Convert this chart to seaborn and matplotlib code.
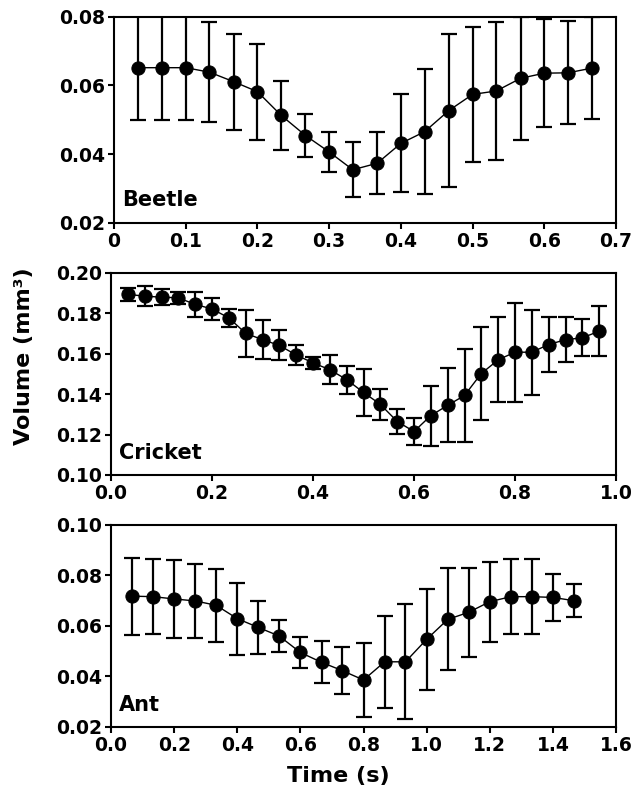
import matplotlib
matplotlib.use("Agg")
import matplotlib.pyplot as plt
import seaborn as sns
import pandas as pd

# ---------------- data ----------------
beetle_time = [0.033, 0.067, 0.100, 0.133, 0.167, 0.200, 0.233, 0.267, 0.300, 0.333,
               0.367, 0.400, 0.433, 0.467, 0.500, 0.533, 0.567, 0.600, 0.633, 0.667]
beetle_mean = [0.0652, 0.0652, 0.0652, 0.0639, 0.0611, 0.0582, 0.0513, 0.0454, 0.0406, 0.0354,
               0.0373, 0.0431, 0.0465, 0.0527, 0.0574, 0.0584, 0.0621, 0.0636, 0.0637, 0.0651]
beetle_err = [0.0152, 0.0152, 0.0152, 0.0146, 0.0140, 0.0140, 0.0100, 0.0062, 0.0058, 0.0080,
              0.0091, 0.0143, 0.0183, 0.0224, 0.0198, 0.0201, 0.0179, 0.0157, 0.0150, 0.0150]

cricket_time = [0.033, 0.067, 0.100, 0.133, 0.167, 0.200, 0.233, 0.267, 0.300, 0.333,
                0.367, 0.400, 0.433, 0.467, 0.500, 0.533, 0.567, 0.600, 0.633, 0.667,
                0.700, 0.733, 0.767, 0.800, 0.833, 0.867, 0.900, 0.933, 0.967]
cricket_mean = [0.1893, 0.1884, 0.1879, 0.1876, 0.1843, 0.1821, 0.1777, 0.1700, 0.1669, 0.1641,
                0.1593, 0.1554, 0.1521, 0.1471, 0.1408, 0.1350, 0.1264, 0.1215, 0.1293, 0.1345,
                0.1393, 0.1501, 0.1570, 0.1607, 0.1607, 0.1645, 0.1669, 0.1678, 0.1711]
cricket_err = [0.0033, 0.0048, 0.0040, 0.0030, 0.0064, 0.0056, 0.0045, 0.0116, 0.0098, 0.0075,
               0.0050, 0.0030, 0.0073, 0.0069, 0.0116, 0.0076, 0.0062, 0.0068, 0.0149, 0.0182,
               0.0231, 0.0229, 0.0209, 0.0245, 0.0211, 0.0136, 0.0110, 0.0091, 0.0124]

ant_time = [0.067, 0.133, 0.200, 0.267, 0.333, 0.400, 0.467, 0.533, 0.600, 0.667, 0.733,
            0.800, 0.867, 0.933, 1.000, 1.067, 1.133, 1.200, 1.267, 1.333, 1.400, 1.467]
ant_mean = [0.0717, 0.0715, 0.0706, 0.0698, 0.0681, 0.0628, 0.0593, 0.0559, 0.0494, 0.0455, 0.0422,
            0.0385, 0.0457, 0.0457, 0.0546, 0.0625, 0.0653, 0.0695, 0.0715, 0.0715, 0.0712, 0.0699]
ant_err = [0.0153, 0.0148, 0.0155, 0.0148, 0.0144, 0.0143, 0.0104, 0.0064, 0.0063, 0.0083, 0.0092,
           0.0147, 0.0183, 0.0228, 0.0201, 0.0202, 0.0177, 0.0158, 0.0148, 0.0148, 0.0094, 0.0065]

beetle_xticks = [0, 0.1, 0.2, 0.3, 0.4, 0.5, 0.6, 0.7]
beetle_xlabels = ["0", "0.1", "0.2", "0.3", "0.4", "0.5", "0.6", "0.7"]
beetle_yticks = [0.02, 0.04, 0.06, 0.08]
beetle_ylabels = ["0.02", "0.04", "0.06", "0.08"]

cricket_xticks = [0.0, 0.2, 0.4, 0.6, 0.8, 1.0]
cricket_xlabels = ["0.0", "0.2", "0.4", "0.6", "0.8", "1.0"]
cricket_yticks = [0.10, 0.12, 0.14, 0.16, 0.18, 0.20]
cricket_ylabels = ["0.10", "0.12", "0.14", "0.16", "0.18", "0.20"]

ant_xticks = [0.0, 0.2, 0.4, 0.6, 0.8, 1.0, 1.2, 1.4, 1.6]
ant_xlabels = ["0.0", "0.2", "0.4", "0.6", "0.8", "1.0", "1.2", "1.4", "1.6"]
ant_yticks = [0.02, 0.04, 0.06, 0.08, 0.10]
ant_ylabels = ["0.02", "0.04", "0.06", "0.08", "0.10"]

# ---------------- style ----------------
sns.set_theme(style="ticks")
plt.rcParams["font.family"] = ["DejaVu Sans"]
plt.rcParams["font.weight"] = "bold"

fig = plt.figure(figsize=(6.35, 7.89), dpi=100)

W, H = 635.0, 789.0
def box(left, right, top, bottom):
    return [left / W, 1 - bottom / H, (right - left) / W, (bottom - top) / H]

panels = [
    ("Beetle", beetle_time, beetle_mean, beetle_err, (0, 0.7), (0.02, 0.08),
     beetle_xticks, beetle_xlabels, beetle_yticks, beetle_ylabels, box(114, 616, 17, 222.5)),
    ("Cricket", cricket_time, cricket_mean, cricket_err, (0, 1.0), (0.10, 0.20),
     cricket_xticks, cricket_xlabels, cricket_yticks, cricket_ylabels, box(111, 616, 272.7, 475)),
    ("Ant", ant_time, ant_mean, ant_err, (0, 1.6), (0.02, 0.10),
     ant_xticks, ant_xlabels, ant_yticks, ant_ylabels, box(111, 616, 524.7, 726.7)),
]

for name, t, m, e, xl, yl, xt, xtl, yt, ytl, pos in panels:
    ax = fig.add_axes(pos)
    df = pd.DataFrame({"time": t, "vol": m, "err": e})
    ax.errorbar(df["time"], df["vol"], yerr=df["err"], fmt="none", ecolor="black",
                elinewidth=1.6, capsize=5.5, capthick=1.6, zorder=2)
    sns.lineplot(data=df, x="time", y="vol", ax=ax, color="black", linewidth=1.0,
                 marker="o", markersize=9.5, markeredgecolor="black",
                 markerfacecolor="black", zorder=3)
    ax.set_xlim(*xl)
    ax.set_ylim(*yl)
    ax.set_xticks(xt)
    ax.set_xticklabels(xtl)
    ax.set_yticks(yt)
    ax.set_yticklabels(ytl)
    ax.set_xlabel("")
    ax.set_ylabel("")
    for s in ax.spines.values():
        s.set_visible(True)
        s.set_linewidth(1.5)
        s.set_color("black")
    ax.tick_params(axis="both", direction="out", length=4.5, width=1.5,
                   colors="black", labelsize=13.5, pad=2)
    for lab in ax.get_xticklabels() + ax.get_yticklabels():
        lab.set_fontweight("bold")
    ax.text(0.016, 0.06, name, transform=ax.transAxes, fontsize=15,
            fontweight="bold", color="black", ha="left", va="bottom")

fig.text(24 / W, 1 - 356 / H, "Volume (mm³)", rotation=90, ha="center", va="center",
         fontsize=16, fontweight="bold", color="black")
fig.text(338 / W, 1 - 776 / H, "Time (s)", ha="center", va="center",
         fontsize=16, fontweight="bold", color="black")

fig.savefig("out.png", dpi=100, facecolor="white")
